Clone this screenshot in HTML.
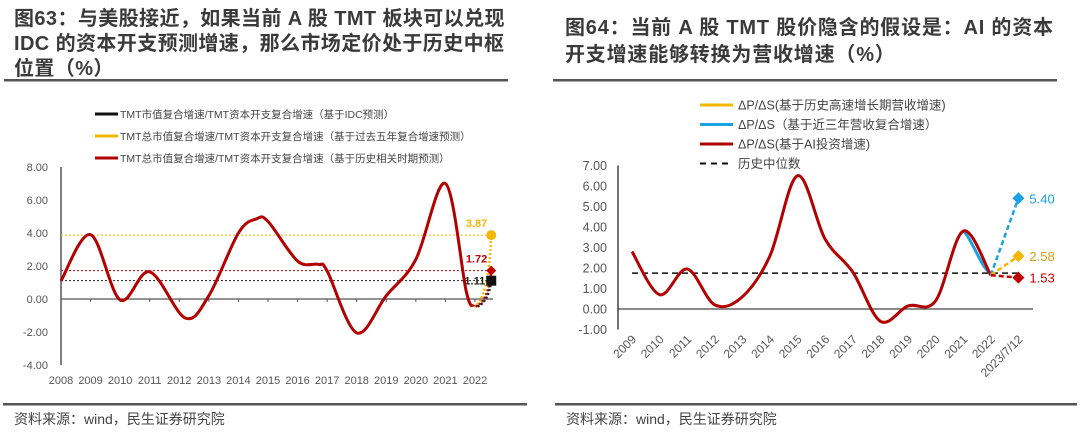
<!DOCTYPE html>
<html><head><meta charset="utf-8">
<style>
body{margin:0;width:1080px;height:433px;background:#fff;overflow:hidden;font-family:"Liberation Sans","Noto Sans CJK SC",sans-serif;}
svg{position:absolute;left:0;top:0}
</style></head>
<body>
<svg width="1080" height="433">
<g id="static" font-family="Liberation Sans, Noto Sans CJK SC, sans-serif">
<text font-size="20" font-weight="bold" fill="#3a3a3a" letter-spacing="0.4"><tspan x="14" y="25">图63：与美股接近，如果当前 A 股 TMT 板块可以兑现</tspan><tspan x="14" y="50">IDC 的资本开支预测增速，那么市场定价处于历史中枢</tspan><tspan x="14" y="75">位置（%）</tspan></text>
<rect x="4" y="79" width="504" height="2.5" fill="#555"/>
<text font-size="20" font-weight="bold" fill="#3a3a3a" letter-spacing="0.8"><tspan x="565" y="34">图64：当前 A 股 TMT 股价隐含的假设是：AI 的资本</tspan><tspan x="565" y="61">开支增速能够转换为营收增速（%）</tspan></text>
<rect x="553" y="79" width="504" height="2.5" fill="#555"/>
<rect x="3" y="403" width="524" height="2.5" fill="#555"/>
<rect x="555" y="403" width="522" height="2.5" fill="#555"/>
<text x="14" y="424" font-size="14" fill="#444">资料来源：wind，民生证券研究院</text>
<text x="566" y="424" font-size="14" fill="#444">资料来源：wind，民生证券研究院</text>
</g>
<g id="left"></g>
<g id="right"></g>
</svg>
<script>
// ---- Left chart data ----
const leftYears=[2008,2009,2010,2011,2012,2013,2014,2015,2016,2017,2018,2019,2020,2021,2022];
const leftCurveX=[2008,2009,2010,2011,2012.2,2013,2014,2014.6,2015,2016,2016.7,2017,2018,2019,2020,2021,2021.7,2021.95];
const leftCurveY=[1.1,3.9,-0.05,1.65,-1.15,0.2,4.0,4.85,4.7,2.3,2.1,1.7,-2.05,0.2,2.4,7.0,0.5,-0.45];
const leftProjLabels=["3.87","1.72","1.11"];
const leftProjValues=[3.87,1.72,1.11];
const leftYTicks=[8,6,4,2,0,-2,-4];
// ---- Right chart data ----
const rightCats=["2009","2010","2011","2012","2013","2014","2015","2016","2017","2018","2019","2020","2021","2022","2023/7/12"];
const rightRed=[2.8,0.7,1.95,0.2,0.6,2.6,6.5,3.4,1.8,-0.6,0.15,0.4,3.8,1.65];
const rightBlueTail=[3.8,1.75];
const rightProj=[5.40,2.58,1.53];
const rightProjLabels=["5.40","2.58","1.53"];
const rightMedian=1.75;
const rightYTicks=[7,6,5,4,3,2,1,0,-1];

const NS="http://www.w3.org/2000/svg";
function mk(parent,tag,attrs){const e=document.createElementNS(NS,tag);for(const k in attrs)e.setAttribute(k,attrs[k]);parent.appendChild(e);return e;}
function smooth(pts){let d="M"+pts[0][0]+","+pts[0][1];for(let i=0;i<pts.length-1;i++){const p0=pts[Math.max(i-1,0)],p1=pts[i],p2=pts[i+1],p3=pts[Math.min(i+2,pts.length-1)];const c1=[p1[0]+(p2[0]-p0[0])/6,p1[1]+(p2[1]-p0[1])/6],c2=[p2[0]-(p3[0]-p1[0])/6,p2[1]-(p3[1]-p1[1])/6];d+=" C"+c1+" "+c2+" "+p2;}return d;}
const F='Liberation Sans, Noto Sans CJK SC, sans-serif';

// ---------- LEFT ----------
(function(){
const g=document.getElementById('left');
const lx=y=>61+(y-2008)*29.57, ly=v=>299-v*16.5;
const ax=mk(g,'line',{x1:61,y1:ly(8),x2:61,y2:ly(-4),stroke:'#555','stroke-width':1.5});

const zx=mk(g,'line',{x1:61,y1:ly(0),x2:493,y2:ly(0),stroke:'#555','stroke-width':1.2});

leftYTicks.forEach(v=>{const t=mk(g,'text',{x:48,y:ly(v)+4,'text-anchor':'end','font-size':11,fill:'#555','font-family':F});t.textContent=v.toFixed(2);
});
leftYears.forEach(y=>{const t=mk(g,'text',{x:lx(y),y:384,'text-anchor':'middle','font-size':11,fill:'#555','font-family':F});t.textContent=y;

if(y>2008){const tk=mk(g,'line',{x1:lx(y),y1:ly(0),x2:lx(y),y2:ly(0)+3,stroke:'#555'});}});
const cols=['#f5b800','#c00000','#222'];
const px=lx(2022.55);
leftProjValues.forEach((v,i)=>{const hl=mk(g,'line',{x1:61,y1:ly(v),x2:px,y2:ly(v),stroke:cols[i],'stroke-width':1,'stroke-dasharray':'2,2'});
});
leftProjValues.forEach((v,i)=>{const dl=mk(g,'path',{d:`M${lx(2021.95)+2*i},${ly(-0.45)} Q${px-3},${ly(-0.2)} ${px},${ly(v)}`,fill:'none',stroke:cols[i],'stroke-width':2.5,'stroke-dasharray':'2,2'});
});
const c=mk(g,'path',{d:smooth(leftCurveX.map((x,i)=>[lx(x),ly(leftCurveY[i])])),fill:'none',stroke:'#b30000','stroke-width':3});

const m0=mk(g,'circle',{cx:px,cy:ly(leftProjValues[0]),r:5,fill:'#f5b800'});
const m1=mk(g,'path',{d:`M${px},${ly(leftProjValues[1])-5} l5,5 l-5,5 l-5,-5z`,fill:'#c00000'});
const m2=mk(g,'rect',{x:px-5,y:ly(leftProjValues[2])-5,width:10,height:10,fill:'#111'});
leftProjLabels.forEach((s,i)=>{const t=mk(g,'text',{x:i==2?px-6:px-4,y:i==2?ly(leftProjValues[2])+4:ly(leftProjValues[i])-8,'text-anchor':'end','font-size':11,'font-weight':'bold',fill:cols[i],'font-family':F});t.textContent=s;
});
const leg=['TMT市值复合增速/TMT资本开支复合增速（基于IDC预测）','TMT总市值复合增速/TMT资本开支复合增速（基于过去五年复合增速预测）','TMT总市值复合增速/TMT资本开支复合增速（基于历史相关时期预测）'];
const lc=['#111','#f5b800','#b30000'];
leg.forEach((s,i)=>{const y=114+i*22;const l=mk(g,'line',{x1:95,y1:y,x2:118,y2:y,stroke:lc[i],'stroke-width':3});
const t=mk(g,'text',{x:120,y:y+4,'font-size':10.5,fill:'#444','font-family':F});t.textContent=s;});
})();

// ---------- RIGHT ----------
(function(){
const g=document.getElementById('right');
const rx=i=>632+i*27.6, ry=v=>309-v*20.5;
const ax=mk(g,'line',{x1:618,y1:ry(7),x2:618,y2:ry(-1),stroke:'#444','stroke-width':1.5});
const zx=mk(g,'line',{x1:618,y1:ry(0),x2:1033,y2:ry(0),stroke:'#444','stroke-width':1.2});
rightYTicks.forEach(v=>{const t=mk(g,'text',{x:607,y:ry(v)+4.5,'text-anchor':'end','font-size':12.5,fill:'#555','font-family':F});t.textContent=v.toFixed(2);
});
rightCats.forEach((s,i)=>{const x=rx(i)+5,y=340;const t=mk(g,'text',{x:x,y:y,'text-anchor':'end','font-size':12,fill:'#555','font-family':F,transform:`rotate(-45 ${x} ${y})`});t.textContent=s;
});
const md=mk(g,'line',{x1:rx(0),y1:ry(rightMedian),x2:rx(14),y2:ry(rightMedian),stroke:'#111','stroke-width':1.5,'stroke-dasharray':'6,4'});
const n=rightRed.length-1;
const bt=mk(g,'path',{d:`M${rx(n-1)},${ry(rightBlueTail[0])} C${rx(n-0.7)},${ry(rightBlueTail[0]-0.3)} ${rx(n-0.3)},${ry(rightBlueTail[1]+0.1)} ${rx(n)},${ry(rightBlueTail[1])}`,fill:'none',stroke:'#1aa3e0','stroke-width':3});
const c=mk(g,'path',{d:smooth(rightRed.map((v,i)=>[rx(i),ry(v)])),fill:'none',stroke:'#b30000','stroke-width':3});
const pc=['#1aa3e0','#f5b800','#c00000'];
const tc=['#1aa3e0','#d4a017','#c00000'];
rightProj.forEach((v,i)=>{const p=mk(g,'line',{x1:rx(n),y1:ry(rightRed[n]),x2:rx(n+1),y2:ry(v),stroke:pc[i],'stroke-width':2.5,'stroke-dasharray':'5,3'});
const m=mk(g,'path',{d:`M${rx(n+1)},${ry(v)-6} l6,6 l-6,6 l-6,-6z`,fill:pc[i]});
const t=mk(g,'text',{x:rx(n+1)+11,y:ry(v)+5,'font-size':13,fill:tc[i],'font-family':F});t.textContent=rightProjLabels[i];});
const leg=['ΔP/ΔS(基于历史高速增长期营收增速)','ΔP/ΔS（基于近三年营收复合增速）','ΔP/ΔS(基于AI投资增速)','历史中位数'];
const lc=['#f5b800','#1aa3e0','#b30000','#111'];
leg.forEach((s,i)=>{const y=105+i*19.5;const l=mk(g,'line',{x1:700,y1:y,x2:733,y2:y,stroke:lc[i],'stroke-width':i==3?2:3,'stroke-dasharray':i==3?'6,5':'none'});
const t=mk(g,'text',{x:738,y:y+4.5,'font-size':12.5,fill:'#444','font-family':F});t.textContent=s;});
})();
</script>
</body></html>
